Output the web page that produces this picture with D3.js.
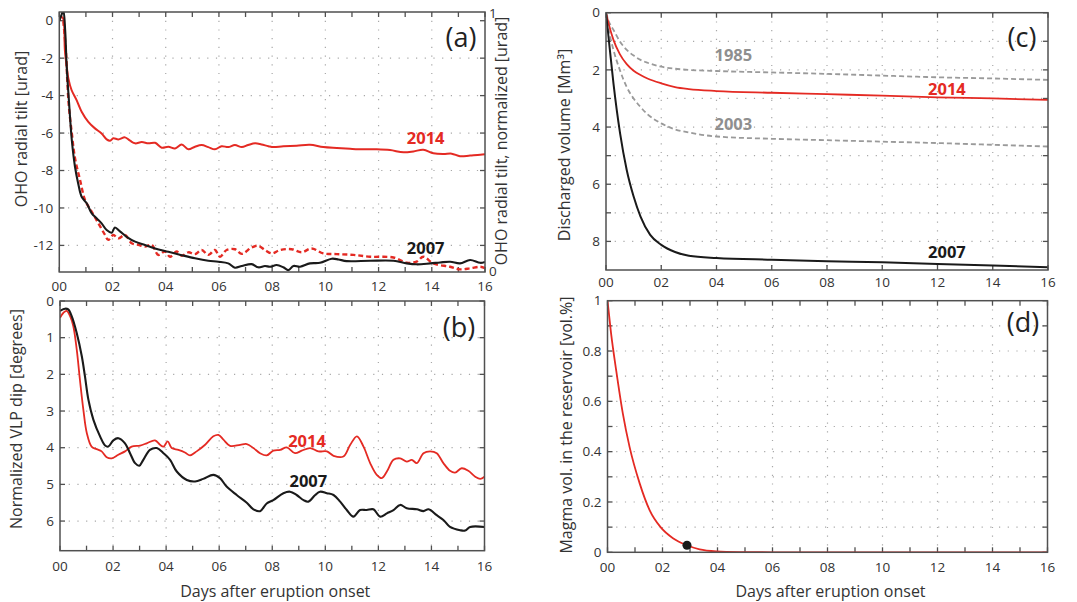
<!DOCTYPE html>
<html><head><meta charset="utf-8">
<script src="https://cdn.jsdelivr.net/npm/d3@7"></script>
<style>body{margin:0;background:#fff} text{font-family:"Open Sans",sans-serif}</style>
</head><body><svg id="c" width="1077" height="602"></svg>
<script>
// ---------- DATA ----------
// (a) OHO radial tilt [urad], 2014 (solid red)
const tilt2014 = [[0,0],[0.08,0.2],[0.15,0.1],[0.21,-1.57],[0.28,-2.46],[0.34,-3.08],[0.46,-3.7],[0.65,-4.24],[0.84,-4.86],[1.09,-5.4],[1.34,-5.75],[1.59,-6.02],[1.78,-6.34],[1.91,-6.41],[2.03,-6.28],[2.22,-6.34],[2.47,-6.23],[2.66,-6.41],[2.85,-6.55],[3.1,-6.48],[3.35,-6.55],[3.6,-6.52],[3.85,-6.78],[4.1,-6.73],[4.35,-6.82],[4.6,-6.61],[4.85,-6.87],[5.1,-6.73],[5.35,-6.64],[5.6,-6.75],[5.85,-6.87],[6.1,-6.7],[6.35,-6.75],[6.6,-6.64],[6.86,-6.75],[7.1,-6.64],[7.36,-6.55],[7.6,-6.61],[7.86,-6.7],[8.05,-6.75],[8.42,-6.7],[8.92,-6.68],[9.42,-6.63],[9.92,-6.75],[10.43,-6.8],[10.93,-6.84],[11.43,-6.87],[11.93,-6.87],[12.43,-6.91],[12.94,-7.03],[13.31,-6.98],[13.68,-6.89],[14.06,-7.08],[14.44,-7.12],[14.75,-7.1],[15.06,-7.24],[15.44,-7.2],[15.82,-7.16],[16,-7.13]];
// (a) 2007 (solid black)
const tilt2007 = [[0,0],[0.08,0.3],[0.15,0.55],[0.22,-0.5],[0.27,-2.2],[0.31,-3.2],[0.36,-4.24],[0.47,-6.37],[0.59,-7.8],[0.71,-8.69],[0.84,-9.4],[1.03,-9.75],[1.22,-10.29],[1.41,-10.56],[1.59,-10.82],[1.78,-11.18],[1.97,-11.32],[2.09,-11.04],[2.28,-11.25],[2.53,-11.54],[2.85,-11.8],[3.22,-11.98],[3.6,-12.16],[4.1,-12.34],[4.6,-12.52],[5.1,-12.69],[5.6,-12.82],[5.98,-12.87],[6.35,-12.96],[6.6,-13.19],[6.86,-13.1],[7.23,-13.0],[7.48,-13.17],[7.73,-13.1],[7.92,-13.14],[8.17,-13.05],[8.42,-13.17],[8.61,-13.32],[8.8,-13.1],[9.05,-13.14],[9.42,-12.96],[9.8,-12.93],[10.24,-12.71],[10.49,-12.75],[10.8,-12.84],[11.68,-12.82],[12.56,-12.82],[13.06,-12.96],[13.43,-13.01],[13.94,-12.96],[14.31,-12.91],[14.69,-12.87],[15.06,-12.96],[15.44,-12.78],[15.82,-12.93],[16,-12.88]];
// (a) 2014 normalized (dashed red, right axis 0..1)
const tiltNorm2014 = [[0.15,0.97],[0.25,0.85],[0.3,0.74],[0.36,0.64],[0.47,0.536],[0.59,0.439],[0.78,0.355],[0.97,0.277],[1.22,0.232],[1.47,0.187],[1.72,0.142],[1.84,0.123],[2.03,0.142],[2.22,0.129],[2.47,0.142],[2.72,0.11],[2.97,0.104],[3.22,0.097],[3.47,0.104],[3.72,0.065],[3.97,0.078],[4.16,0.058],[4.41,0.078],[4.6,0.062],[4.85,0.075],[5.1,0.068],[5.35,0.084],[5.6,0.065],[5.85,0.084],[6.04,0.058],[6.29,0.084],[6.6,0.087],[6.86,0.069],[7.23,0.094],[7.48,0.1],[7.73,0.084],[7.99,0.071],[8.3,0.084],[8.73,0.087],[9.11,0.075],[9.48,0.09],[9.92,0.071],[10.43,0.068],[11.05,0.065],[11.68,0.058],[12.56,0.055],[13.06,0.035],[13.43,0.039],[13.68,0.058],[14.06,0.032],[14.69,0.019],[15.06,0.009],[15.44,0.013],[15.82,0.019],[16,0.014]];
// (b) Normalized VLP dip [degrees]
const vlp2007 = [[0,0.27],[0.19,0.21],[0.31,0.23],[0.44,0.41],[0.63,0.87],[0.82,1.5],[0.94,2.05],[1.07,2.69],[1.26,3.24],[1.51,3.69],[1.7,3.94],[1.82,3.97],[2.01,3.8],[2.2,3.74],[2.45,3.88],[2.64,4.15],[2.83,4.42],[2.99,4.49],[3.14,4.33],[3.39,4.06],[3.65,4.01],[3.9,4.15],[4.15,4.33],[4.4,4.65],[4.78,4.88],[5.09,4.92],[5.4,4.85],[5.78,4.74],[6.03,4.83],[6.28,5.06],[6.66,5.29],[7.04,5.5],[7.29,5.68],[7.54,5.73],[7.79,5.52],[8.04,5.43],[8.42,5.24],[8.67,5.2],[8.92,5.29],[9.18,5.43],[9.36,5.47],[9.62,5.29],[9.8,5.2],[10.06,5.24],[10.31,5.29],[10.56,5.47],[10.81,5.7],[11.06,5.88],[11.31,5.7],[11.56,5.7],[11.81,5.68],[12.07,5.88],[12.32,5.79],[12.57,5.7],[12.82,5.56],[13.07,5.65],[13.45,5.68],[13.7,5.73],[13.89,5.68],[14.2,5.84],[14.45,5.97],[14.7,6.16],[15.08,6.25],[15.27,6.26],[15.46,6.16],[16,6.16]];
const vlp2014 = [[0,0.46],[0.13,0.32],[0.25,0.27],[0.38,0.41],[0.5,0.68],[0.63,1.32],[0.75,2.14],[0.88,2.96],[1.01,3.6],[1.19,3.97],[1.38,4.04],[1.57,4.1],[1.76,4.26],[1.95,4.29],[2.2,4.19],[2.45,4.1],[2.7,3.97],[3.02,3.94],[3.27,3.88],[3.58,3.8],[3.77,3.92],[3.9,3.97],[4.06,3.83],[4.21,4.01],[4.46,4.06],[4.71,4.13],[4.9,4.21],[5.15,4.1],[5.47,3.92],[5.78,3.69],[5.97,3.65],[6.16,3.78],[6.41,3.95],[6.79,3.92],[7.04,3.9],[7.29,4.01],[7.54,4.15],[7.79,4.21],[8.04,4.08],[8.3,4.06],[8.55,3.99],[8.86,4.15],[9.11,4.08],[9.43,4.01],[9.74,4.1],[10.06,4.1],[10.31,4.22],[10.68,4.24],[10.94,3.92],[11.19,3.69],[11.44,3.97],[11.69,4.42],[11.94,4.74],[12.13,4.83],[12.32,4.65],[12.57,4.33],[12.82,4.29],[13.07,4.38],[13.26,4.33],[13.45,4.42],[13.7,4.15],[13.95,4.1],[14.2,4.15],[14.45,4.42],[14.7,4.63],[14.89,4.68],[15.14,4.56],[15.39,4.63],[15.65,4.79],[15.84,4.85],[16,4.79]];
// (c) Discharged volume [Mm3]
const vol2007 = [[0,0],[0.14,1.3],[0.27,2.47],[0.51,4.22],[0.75,5.5],[1,6.43],[1.25,7.13],[1.6,7.77],[2,8.12],[2.5,8.37],[3,8.5],[4,8.58],[6,8.64],[8,8.69],[10,8.73],[12,8.79],[14,8.84],[16,8.9]];
const vol2014 = [[0,0],[0.1,0.4],[0.27,0.95],[0.5,1.45],[0.75,1.8],[1,2.03],[1.25,2.18],[1.5,2.3],[2,2.47],[2.5,2.6],[3,2.67],[4,2.74],[6,2.8],[8,2.85],[10,2.9],[12,2.96],[14,3.0],[16,3.05]];
const vol1985 = [[0,0],[0.1,0.3],[0.27,0.6],[0.5,1.0],[0.75,1.3],[1,1.5],[1.25,1.65],[1.5,1.75],[2,1.89],[2.5,1.96],[3,2.0],[4,2.04],[6,2.09],[8,2.14],[10,2.2],[12,2.26],[14,2.3],[16,2.35]];
const vol2003 = [[0,0],[0.1,0.6],[0.27,1.3],[0.5,2.0],[0.75,2.6],[1,3.0],[1.25,3.3],[1.5,3.55],[2,3.87],[2.5,4.08],[3,4.19],[4,4.33],[6,4.41],[8,4.46],[10,4.51],[12,4.56],[14,4.62],[16,4.68]];
// (d) Magma vol. in the reservoir
const reservoir = [[0,1],[0.13,0.87],[0.32,0.72],[0.56,0.55],[0.8,0.42],[1.17,0.274],[1.53,0.168],[1.93,0.1],[2.38,0.056],[2.86,0.029],[3.35,0.012],[3.96,0.004],[4.8,0.001],[6,0],[16,0]];
const reservoirPoint = [[2.89,0.028]];
// ticks
const dayTicks = d3.range(0,17,1);
const dayTicks2 = d3.range(0,17,2);
const dayGrid = d3.range(2,16,2);
const ticksA = [0,-2,-4,-6,-8,-10,-12];
const ticksARight = [0,1];
const ticksB = [0,1,2,3,4,5,6];
const ticksC = [0,1,2,3,4,5,6,7,8];
const labelsC = [0,2,4,6,8];
const ticksD = d3.range(0,11).map(i=>i/10);
const labelsD = [0,0.2,0.4,0.6,0.8,1];

// ---------- DRAW ----------
const RED = "#e42a23", BLACK = "#1a1a1a", GRAY = "#9a9a9a", FRAME = "#505050", TXT = "#333";
const svg = d3.select("#c");
const fmtDay = d3.format("02d");
const fmtNum = v => (Math.abs(v) < 1e-9 ? "0" : String(+v.toFixed(1)));

function panel(o){
  const x = d3.scaleLinear().domain([0,16]).range([o.l,o.r]);
  const y = d3.scaleLinear().domain(o.yDom).range(o.yRange);
  const g = svg.append("g");
  const cid = "clip"+o.name;
  svg.append("clipPath").attr("id",cid).append("rect")
    .attr("x",o.l).attr("y",o.t).attr("width",o.r-o.l).attr("height",o.b-o.t);
  g.selectAll(".vg").data(dayGrid).join("line")
    .attr("x1",d=>x(d)).attr("x2",d=>x(d)).attr("y1",o.t).attr("y2",o.b)
    .attr("stroke","#a8a8a8").attr("stroke-width",1.2).attr("stroke-dasharray","1.2,7.5");
  g.selectAll(".hg").data(o.yGrid).join("line")
    .attr("x1",o.l).attr("x2",o.r).attr("y1",d=>y(d)).attr("y2",d=>y(d))
    .attr("stroke","#a8a8a8").attr("stroke-width",1.2).attr("stroke-dasharray","1.2,7.5");
  const tk = 5;
  const xt = o.xTicks;
  g.selectAll(".xtb").data(xt).join("line")
    .attr("x1",d=>x(d)).attr("x2",d=>x(d)).attr("y1",o.b).attr("y2",o.b-tk)
    .attr("stroke",FRAME).attr("stroke-width",1.3);
  g.selectAll(".xtt").data(xt).join("line")
    .attr("x1",d=>x(d)).attr("x2",d=>x(d)).attr("y1",o.t).attr("y2",o.t+tk)
    .attr("stroke",FRAME).attr("stroke-width",1.3);
  g.selectAll(".ytl").data(o.yTicks).join("line")
    .attr("x1",o.l).attr("x2",o.l+tk).attr("y1",d=>y(d)).attr("y2",d=>y(d))
    .attr("stroke",FRAME).attr("stroke-width",1.3);
  g.selectAll(".ytr").data(o.yTicks).join("line")
    .attr("x1",o.r).attr("x2",o.r-tk).attr("y1",d=>y(d)).attr("y2",d=>y(d))
    .attr("stroke",FRAME).attr("stroke-width",1.3);
  g.selectAll(".yl").data(o.yLabels).join("text")
    .attr("x",o.l-6).attr("y",d=>y(d)).attr("dy","0.35em").attr("text-anchor","end")
    .attr("font-size",13.5).attr("fill",TXT).text(fmtNum);
  g.selectAll(".xl").data(dayTicks2).join("text")
    .attr("x",d=>x(d)).attr("y",o.b+o.xLabelOff).attr("text-anchor","middle")
    .attr("font-size",13.5).attr("fill",TXT).text(fmtDay);
  g.append("text").attr("transform",`translate(${o.ytx},${o.yty}) rotate(-90)`)
    .attr("text-anchor","middle").attr("font-size",16).attr("fill",TXT).text(o.yTitle);
  if (o.xTitle) g.append("text").attr("x",(o.l+o.r)/2+3).attr("y",597)
    .attr("text-anchor","middle").attr("font-size",16).attr("fill",TXT).text(o.xTitle);
  const data = g.append("g").attr("clip-path",`url(#${cid})`);
  g.append("text").attr("x",o.lx).attr("y",o.ly).attr("text-anchor","middle")
    .attr("font-size",27).attr("fill","#222").text(o.letter);
  const frame = () => g.append("rect").attr("x",o.l).attr("y",o.t).attr("width",o.r-o.l).attr("height",o.b-o.t)
    .attr("fill","none").attr("stroke",FRAME).attr("stroke-width",1.5);
  return {x,y,g,data,frame};
}
function drawLine(p, yScale, pts, color, width, dash, curve){
  p.data.append("path").datum(pts)
    .attr("d", d3.line().x(d=>p.x(d[0])).y(d=>yScale(d[1])).curve(curve||d3.curveCatmullRom.alpha(0.5)))
    .attr("fill","none").attr("stroke",color).attr("stroke-width",width)
    .attr("stroke-dasharray",dash||null).attr("stroke-linejoin","round");
}
function label(p, day, yPix, txt, color){
  p.g.append("text").attr("x",p.x(day)).attr("y",yPix).attr("text-anchor","middle")
    .attr("font-size",16.5).attr("font-weight","bold").attr("fill",color).text(txt);
}

// (a)
const A = panel({name:"a", l:59.3, r:485, t:12, b:272, yDom:[-13.42,0.465], yRange:[272,12],
  yGrid:[-2,-4,-6,-8,-10,-12], yTicks:ticksA, yLabels:ticksA, xTicks:dayTicks, xLabelOff:19,
  ytx:27, yty:129, yTitle:"OHO radial tilt [urad]", letter:"(a)", lx:461, ly:47});
const yAR = d3.scaleLinear().domain([0,1]).range([271.7,13.3]);
A.g.selectAll(".yr").data(ticksARight).join("text")
  .attr("x",489).attr("y",d=>yAR(d)).attr("dy","0.35em").attr("text-anchor","start")
  .attr("font-size",13.5).attr("fill",TXT).text(d=>d);
A.g.append("text").attr("transform","translate(507,141) rotate(-90)").attr("text-anchor","middle")
  .attr("font-size",16).attr("fill",TXT).text("OHO radial tilt, normalized [urad]");
drawLine(A, A.y, tilt2014, RED, 2);
drawLine(A, yAR, tiltNorm2014, RED, 2.4, "5,3");
drawLine(A, A.y, tilt2007, BLACK, 2.1);
A.frame();
label(A, 13.77, 144, "2014", RED);
label(A, 13.77, 254, "2007", BLACK);

// (b)
const B = panel({name:"b", l:60, r:484.5, t:301, b:550.7, yDom:[0,6.8], yRange:[301,550.4],
  yGrid:[1,2,3,4,5,6], yTicks:ticksB, yLabels:ticksB, xTicks:dayTicks, xLabelOff:20,
  ytx:22, yty:419, yTitle:"Normalized VLP dip [degrees]", xTitle:"Days after eruption onset",
  letter:"(b)", lx:459, ly:337});
drawLine(B, B.y, vlp2014, RED, 1.8);
drawLine(B, B.y, vlp2007, BLACK, 2.1);
B.frame();
label(B, 9.31, 446.5, "2014", RED);
label(B, 9.36, 487, "2007", BLACK);

// (c)
const C = panel({name:"c", l:606, r:1048, t:12.7, b:270, yDom:[0,9], yRange:[12.7,270],
  yGrid:[1,2,3,4,5,6,7,8], yTicks:ticksC, yLabels:labelsC, xTicks:dayTicks2, xLabelOff:17,
  ytx:570, yty:145, yTitle:"Discharged volume [Mm³]", letter:"(c)", lx:1022, ly:47});
drawLine(C, C.y, vol1985, GRAY, 1.8, "5,3", d3.curveMonotoneX);
drawLine(C, C.y, vol2003, GRAY, 1.8, "5,3", d3.curveMonotoneX);
drawLine(C, C.y, vol2014, RED, 1.8, null, d3.curveMonotoneX);
drawLine(C, C.y, vol2007, BLACK, 2, null, d3.curveMonotoneX);
C.frame();
label(C, 4.61, 61, "1985", "#8f8f8f");
label(C, 4.61, 130, "2003", "#8f8f8f");
label(C, 12.34, 95, "2014", RED);
label(C, 12.34, 258, "2007", BLACK);

// (d)
const D = panel({name:"d", l:607.5, r:1047.5, t:300.7, b:552.3, yDom:[0,1], yRange:[552.3,300.7],
  yGrid:d3.range(1,10).map(i=>i/10), yTicks:ticksD, yLabels:labelsD, xTicks:dayTicks, xLabelOff:20,
  ytx:572, yty:425, yTitle:"Magma vol. in the reservoir [vol.%]", xTitle:"Days after eruption onset",
  letter:"(d)", lx:1023, ly:332});
drawLine(D, D.y, reservoir, RED, 1.8, null, d3.curveMonotoneX);
D.frame();
D.g.selectAll(".pt").data(reservoirPoint).join("circle")
  .attr("cx",d=>D.x(d[0])).attr("cy",d=>D.y(d[1])).attr("r",4.5).attr("fill",BLACK);
</script></body></html>
